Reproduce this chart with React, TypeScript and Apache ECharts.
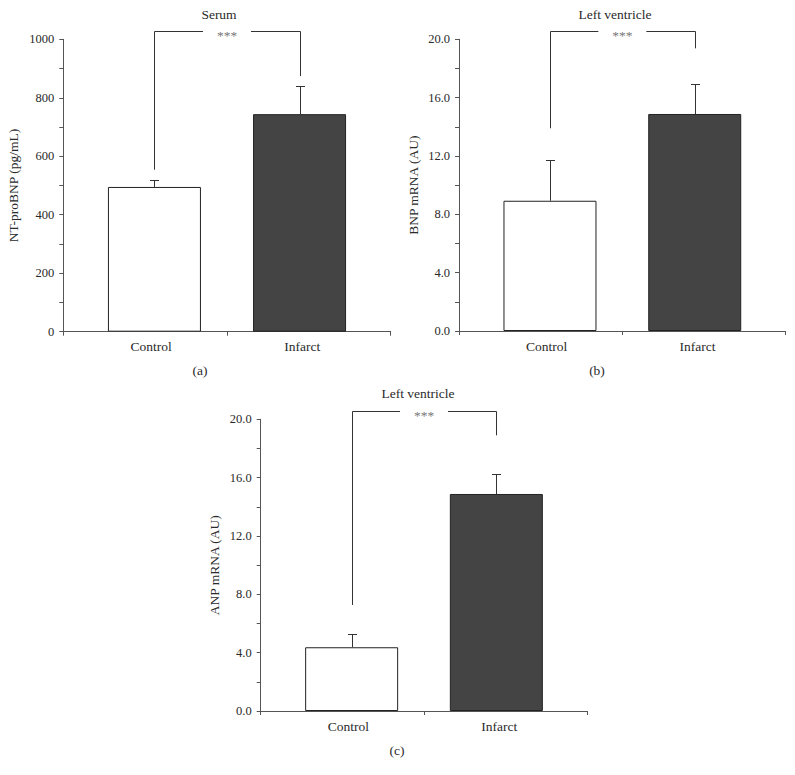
import React, { useEffect, useRef } from 'react';
import * as echarts from 'echarts';

const categories = ['Control', 'Infarct'];

// Panel (a) Serum NT-proBNP
const serumMean = [495, 744];
const serumUpper = [518, 841];
const serumBracket = [554, 874, 1029]; // left leg end, right leg end, bracket top
const serumTickLabels = ['0', '200', '400', '600', '800', '1000'];

// Panel (b) Left ventricle BNP mRNA
const bnpMean = [8.93, 14.88];
const bnpUpper = [11.7, 16.91];
const bnpBracket = [13.9, 19.38, 20.59];
const mrnaTickLabels = ['0.0', '4.0', '8.0', '12.0', '16.0', '20.0'];

// Panel (c) Left ventricle ANP mRNA
const anpMean = [4.37, 14.88];
const anpUpper = [5.28, 16.27];
const anpBracket = [7.27, 18.9, 20.59];

const FONT = '"Liberation Serif", "DejaVu Serif", serif';
const TXT = '#2a2a2a';
const LINE = '#333';
const AXIS = '#555';
const FS = 13.5;
const TICK_FS = 12.5;
const BAR_W = 93;
const BAR_GAP = -1.2;
const BAR_OFF = (-BAR_W * (1 + BAR_GAP)) / 2; // centre shift of bars inside their band

const panels = [
  {
    grid: { left: 63.3, top: 39.3, width: 327.4, height: 292.4 },
    max: 1000, interval: 100, labels: serumTickLabels, fmt: (v: number) => String(Math.round(v)),
    name: 'NT-proBNP (pg/mL)', nameGap: 43,
    mean: serumMean, upper: serumUpper, bracket: serumBracket,
    title: 'Serum', titleX: 219, titleY: 14, tag: '(a)', tagX: 200, tagY: 370,
  },
  {
    grid: { left: 459, top: 39.3, width: 326.7, height: 291.7 },
    max: 20, interval: 2, labels: mrnaTickLabels, fmt: (v: number) => v.toFixed(1),
    name: 'BNP mRNA (AU)', nameGap: 39,
    mean: bnpMean, upper: bnpUpper, bracket: bnpBracket,
    title: 'Left ventricle', titleX: 615, titleY: 14, tag: '(b)', tagX: 597, tagY: 370,
  },
  {
    grid: { left: 260.7, top: 419.3, width: 326.6, height: 291.7 },
    max: 20, interval: 2, labels: mrnaTickLabels, fmt: (v: number) => v.toFixed(1),
    name: 'ANP mRNA (AU)', nameGap: 39,
    mean: anpMean, upper: anpUpper, bracket: anpBracket,
    title: 'Left ventricle', titleX: 418, titleY: 393, tag: '(c)', tagX: 397, tagY: 750,
  },
];

function buildOption() {
  const grid: any[] = [];
  const xAxis: any[] = [];
  const yAxis: any[] = [];
  const series: any[] = [];
  const graphic: any[] = [];

  panels.forEach((p, i) => {
    grid.push({ ...p.grid, containLabel: false });
    xAxis.push({
      type: 'category',
      gridIndex: i,
      data: categories,
      boundaryGap: true,
      axisLine: { show: true, lineStyle: { color: AXIS, width: 1 } },
      axisTick: { show: true, length: 4, lineStyle: { color: AXIS } },
      splitLine: { show: false },
      axisLabel: {
        margin: 8,
        fontFamily: FONT,
        fontSize: FS,
        color: TXT,
        formatter: (v: string) => (v === categories[0] ? `{l|${v}}` : `{r|${v}}`),
        rich: {
          l: { padding: [0, 0, 0, 12], fontFamily: FONT, fontSize: FS, color: TXT },
          r: { padding: [0, 13, 0, 0], fontFamily: FONT, fontSize: FS, color: TXT },
        },
      },
    });
    yAxis.push({
      type: 'value',
      gridIndex: i,
      min: 0,
      max: p.max,
      interval: p.interval,
      name: p.name,
      nameLocation: 'middle',
      nameRotate: 90,
      nameGap: p.nameGap,
      nameTextStyle: { fontFamily: FONT, fontSize: FS, color: TXT },
      axisLine: { show: true, lineStyle: { color: AXIS, width: 1 } },
      axisTick: { show: true, length: 4, lineStyle: { color: AXIS } },
      splitLine: { show: false },
      axisLabel: {
        margin: 9,
        fontFamily: FONT,
        fontSize: TICK_FS,
        color: TXT,
        formatter: (v: number) => {
          const s = p.fmt(v);
          return p.labels.includes(s) ? s : '';
        },
      },
    });

    series.push({
      type: 'bar',
      xAxisIndex: i,
      yAxisIndex: i,
      barWidth: BAR_W,
      barGap: `${BAR_GAP * 100}%`,
      data: [p.mean[0], '-'],
      itemStyle: { color: '#ffffff', borderColor: '#222', borderWidth: 1 },
      z: 2,
    });
    series.push({
      type: 'bar',
      xAxisIndex: i,
      yAxisIndex: i,
      barWidth: BAR_W,
      barGap: `${BAR_GAP * 100}%`,
      data: ['-', p.mean[1]],
      itemStyle: { color: '#444444', borderColor: '#222', borderWidth: 1 },
      z: 2,
    });
    // error bars (upper only)
    series.push({
      type: 'custom',
      xAxisIndex: i,
      yAxisIndex: i,
      z: 3,
      encode: { x: 0, y: [1, 2] },
      data: categories.map((_, k) => [k, p.mean[k], p.upper[k]]),
      renderItem: (params: any, api: any) => {
        const k = api.value(0);
        const a = api.coord([k, api.value(1)]);
        const b = api.coord([k, api.value(2)]);
        const x = Math.round(a[0] + (k === 0 ? BAR_OFF : -BAR_OFF)) + 0.5;
        const yb = Math.round(b[1]) + 0.5;
        return {
          type: 'group',
          children: [
            { type: 'line', shape: { x1: x, y1: a[1], x2: x, y2: yb }, style: { stroke: LINE, lineWidth: 1 } },
            { type: 'line', shape: { x1: x - 4.5, y1: yb, x2: x + 4.5, y2: yb }, style: { stroke: LINE, lineWidth: 1 } },
          ],
        };
      },
    });
    // significance bracket
    series.push({
      type: 'custom',
      xAxisIndex: i,
      yAxisIndex: i,
      z: 3,
      clip: false,
      encode: { x: 0, y: [1, 2] },
      data: categories.map((_, k) => [k, p.bracket[k], p.bracket[2]]),
      renderItem: (params: any, api: any) => {
        const k = api.value(0);
        const a = api.coord([k, api.value(1)]);
        const b = api.coord([k, api.value(2)]);
        const band = api.size([1, 0])[0];
        const x = Math.round(a[0] + (k === 0 ? BAR_OFF : -BAR_OFF)) + 0.5;
        const yt = Math.round(b[1]) + 0.5;
        const mid = api.coord([0, 0])[0] + band / 2;
        const gap = 24;
        const hx = k === 0 ? mid - gap : mid + gap;
        const children: any[] = [
          { type: 'line', shape: { x1: x, y1: a[1], x2: x, y2: yt }, style: { stroke: LINE, lineWidth: 1 } },
          { type: 'line', shape: { x1: x, y1: yt, x2: hx, y2: yt }, style: { stroke: LINE, lineWidth: 1 } },
        ];
        if (k === 0) {
          children.push({
            type: 'text',
            x: mid,
            y: yt + 4,
            style: {
              text: '***',
              fontFamily: FONT,
              fontSize: FS,
              fill: '#777',
              align: 'center',
              verticalAlign: 'middle',
            },
          });
        }
        return { type: 'group', children };
      },
    });

    graphic.push({
      type: 'text',
      x: p.titleX,
      y: p.titleY,
      style: { text: p.title, fontFamily: FONT, fontSize: FS, fill: TXT, align: 'center', verticalAlign: 'middle' },
    });
    graphic.push({
      type: 'text',
      x: p.tagX,
      y: p.tagY,
      style: { text: p.tag, fontFamily: FONT, fontSize: FS, fill: TXT, align: 'center', verticalAlign: 'middle' },
    });
  });

  return {
    animation: false,
    backgroundColor: '#ffffff',
    grid,
    xAxis,
    yAxis,
    series,
    graphic,
  };
}

export default function App() {
  const ref = useRef<HTMLDivElement>(null);
  useEffect(() => {
    if (!ref.current) return;
    const chart = echarts.init(ref.current, undefined, { renderer: 'svg' });
    chart.setOption(buildOption() as any);
    return () => chart.dispose();
  }, []);
  return (
    <div
      ref={ref}
      style={{ position: 'absolute', left: 0, top: 0, width: 795, height: 775, background: '#fff' }}
    />
  );
}
